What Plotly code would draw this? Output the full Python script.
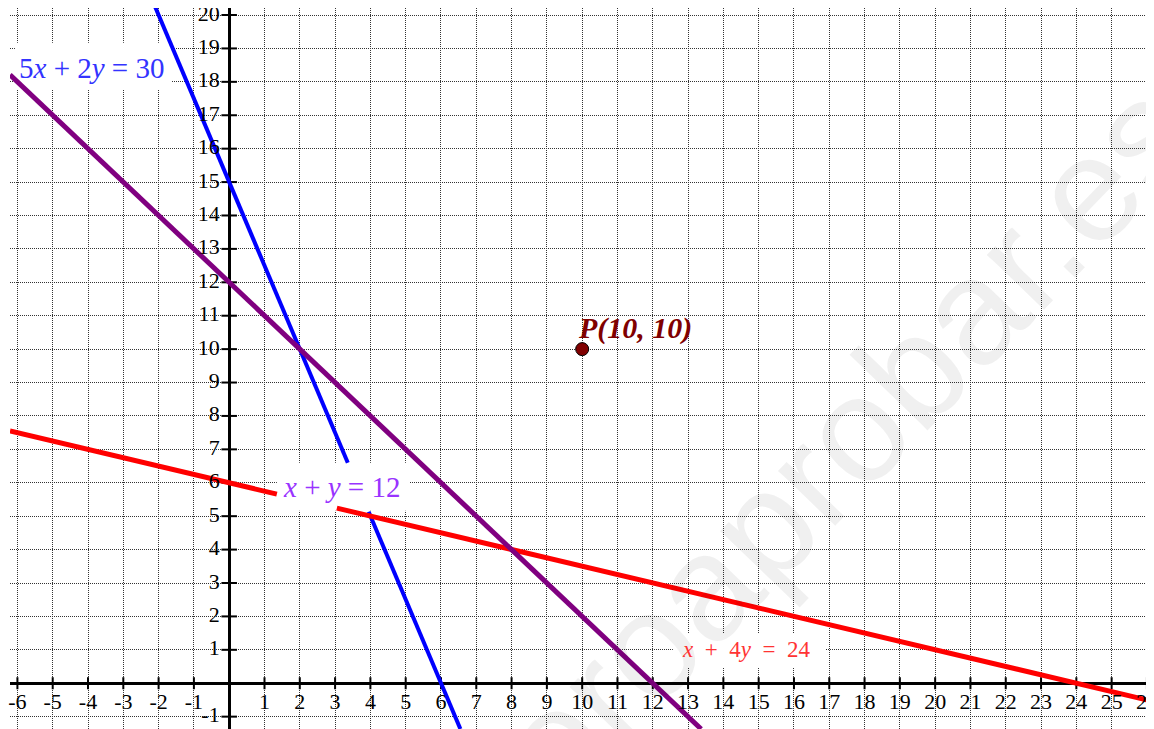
import plotly.graph_objects as go

# ---- data ----
blue_x = [-2.1, 3.36, None, 3.95, 6.55]      # 5x + 2y = 30 (gap behind label)
blue_y = [20.25, 6.6, None, 5.13, -1.37]
red_x = [-6.21, 1.35, None, 3.05, 26.2]      # x + 4y = 24 (gap behind label)
red_y = [7.55, 5.66, None, 5.24, -0.55]
purple_x = [-6.21, 13.37]                    # x + y = 12
purple_y = [18.21, -1.37]
point_x = [10]
point_y = [10]

x_ticks = [-6, -5, -4, -3, -2, -1] + list(range(1, 27))
y_ticks = [-1] + list(range(1, 21))
x_tick_labels = [str(v) for v in x_ticks]
y_tick_labels = [str(v) for v in y_ticks]

X_RANGE = [-6.21, 26.2]
Y_RANGE = [-1.37, 20.21]

SERIF = "Liberation Serif, Times New Roman, serif"

fig = go.Figure()

# tick marks crossing the axes
tx, ty = [], []
for t in x_ticks:
    tx += [t, t, None]
    ty += [-0.18, 0.18, None]
for t in y_ticks:
    tx += [-0.22, 0.22, None]
    ty += [t, t, None]
fig.add_trace(go.Scatter(x=tx, y=ty, mode="lines", line=dict(color="black", width=2),
                         hoverinfo="skip", showlegend=False))

fig.add_trace(go.Scatter(x=blue_x, y=blue_y, mode="lines", line=dict(color="#0000ff", width=4),
                         showlegend=False, connectgaps=False))
fig.add_trace(go.Scatter(x=red_x, y=red_y, mode="lines", line=dict(color="#ff0000", width=5),
                         showlegend=False, connectgaps=False))
fig.add_trace(go.Scatter(x=purple_x, y=purple_y, mode="lines", line=dict(color="#800080", width=5),
                         showlegend=False))
fig.add_trace(go.Scatter(x=point_x, y=point_y, mode="markers",
                         marker=dict(color="#800000", size=13, line=dict(color="black", width=1)),
                         showlegend=False))

# tick labels
fig.add_trace(go.Scatter(x=x_ticks, y=[-0.62] * len(x_ticks), mode="text", text=x_tick_labels,
                         textposition="middle center",
                         textfont=dict(family=SERIF, size=22, color="black"),
                         hoverinfo="skip", showlegend=False, cliponaxis=False))
fig.add_trace(go.Scatter(x=[-0.27] * len(y_ticks), y=y_ticks, mode="text", text=y_tick_labels,
                         textposition="middle left",
                         textfont=dict(family=SERIF, size=22, color="black"),
                         hoverinfo="skip", showlegend=False, cliponaxis=False))

# white boxes behind the equation labels (above grid, below traces)
boxes = [(-6.07, -1.62, 17.76, 19.17), (1.35, 5.12, 5.16, 6.60), (12.57, 16.9, 0.46, 1.5)]
for x0, x1, y0, y1 in boxes:
    fig.add_shape(type="rect", x0=x0, x1=x1, y0=y0, y1=y1, xref="x", yref="y",
                  fillcolor="white", line=dict(width=0), layer="between")

# watermark
fig.add_annotation(x=15.5, y=5.13, xref="x", yref="y", text="quieroaprobar.es",
                   showarrow=False, textangle=-46,
                   font=dict(family="Liberation Sans, Arial, sans-serif", size=150,
                             color="rgba(0,0,0,0.06)"))

# labels
fig.add_annotation(x=-3.89, y=18.42, text="5<i>x</i> + 2<i>y</i> = 30", showarrow=False,
                   font=dict(family=SERIF, size=29, color="#3333ff"))
fig.add_annotation(x=3.17, y=5.88, text="<i>x</i>&nbsp;+&nbsp;<i>y</i>&nbsp;=&nbsp;12", showarrow=False,
                   font=dict(family=SERIF, size=29, color="#9933ff"))
fig.add_annotation(x=14.64, y=1.0, text="<i>x</i>&nbsp; +&nbsp; 4<i>y</i>&nbsp; =&nbsp; 24", showarrow=False,
                   font=dict(family=SERIF, size=23, color="#ff3333"))
fig.add_annotation(x=11.5, y=10.64, text="<b><i>P(10, 10)</i></b>", showarrow=False,
                   font=dict(family=SERIF, size=30, color="#800000"))

axis_common = dict(
    showgrid=True, gridcolor="#333333", gridwidth=1, griddash="1px,1px",
    dtick=1, tick0=0, showticklabels=False, ticks="",
    zeroline=True, zerolinecolor="black", zerolinewidth=3,
    showline=False, fixedrange=True,
)
fig.update_xaxes(range=X_RANGE, **axis_common)
fig.update_yaxes(range=Y_RANGE, **axis_common)

# the page adds an 8px body margin, so the figure is sized/placed to compensate
fig.update_layout(
    width=1146, height=721,
    margin=dict(l=2, r=0, t=0, b=0),
    paper_bgcolor="white", plot_bgcolor="white",
    showlegend=False,
)

fig.write_html("out.html")
